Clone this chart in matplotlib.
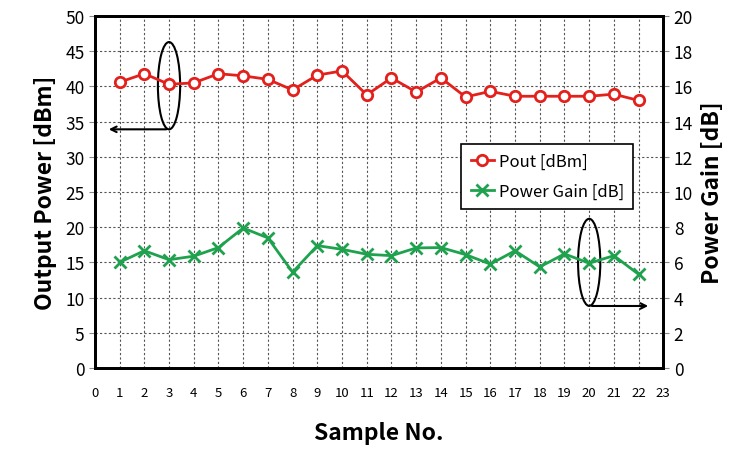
import matplotlib.pyplot as plt
from matplotlib.patches import Ellipse

plt.rcParams['font.family'] = ['Noto Sans CJK KR', 'DejaVu Sans']

samples = list(range(1, 23))
pout_dbm = [40.6, 41.8, 40.3, 40.5, 41.8, 41.5, 41.0, 39.5, 41.6, 42.2, 38.8,
            41.2, 39.2, 41.2, 38.5, 39.3, 38.6, 38.6, 38.6, 38.6, 38.9, 38.0]
gain_db = [6.0, 6.66, 6.15, 6.35, 6.84, 7.95, 7.39, 5.44, 6.95, 6.74, 6.46,
           6.38, 6.82, 6.84, 6.44, 5.9, 6.66, 5.74, 6.48, 5.95, 6.38, 5.32]

red = '#e3201c'
green = '#1fa24e'

fig = plt.figure(figsize=(7.47, 4.6), dpi=100)
ax = fig.add_axes([0.127, 0.198, 0.761, 0.765])
ax2 = ax.twinx()

l1, = ax.plot(samples, pout_dbm, color=red, lw=2, marker='o', ms=7.5,
              mfc='white', mec=red, mew=2, label='Pout [dBm]')
l2, = ax2.plot(samples, gain_db, color=green, lw=2, marker='x', ms=8,
               mec=green, mew=2, label='Power Gain [dB]')

ax.set_xlim(0, 23)
ax.set_ylim(0, 50)
ax2.set_ylim(0, 20)
ax.set_xticks(range(0, 24))
ax.set_yticks(range(0, 51, 5))
ax2.set_yticks(range(0, 21, 2))
ax.grid(True, color='#555555', ls=(0, (2, 2)), lw=0.8)
ax.set_axisbelow(True)

for a in (ax, ax2):
    for s in a.spines.values():
        s.set_linewidth(2)
        s.set_color('black')
ax.tick_params(axis='y', labelsize=12.5, length=4, width=0.8, color='#888888')
ax2.tick_params(axis='y', labelsize=12.5, length=4, width=0.8, color='#888888')
ax.tick_params(axis='x', labelsize=9.5, length=0, pad=13)

ax.set_xlabel('Sample No.', fontsize=16.5, fontweight='bold', labelpad=16)
ax.set_ylabel('Output Power [dBm]', fontsize=16.5, fontweight='bold', labelpad=6)
ax2.set_ylabel('Power Gain [dB]', fontsize=16.5, fontweight='bold', labelpad=6)

# annotations pointing each series to its own axis
ax.add_patch(Ellipse((3, 40.1), 0.9, 12.4, fill=False, ec='black', lw=1.5))
ax.annotate('', xy=(0.45, 33.9), xytext=(3, 33.9),
            arrowprops=dict(arrowstyle='->', lw=1.5, color='black'))
ax2.add_patch(Ellipse((20, 6.0), 0.9, 4.95, fill=False, ec='black', lw=1.5))
ax2.annotate('', xy=(22.5, 3.52), xytext=(20, 3.52),
             arrowprops=dict(arrowstyle='->', lw=1.5, color='black'))

leg = ax2.legend(handles=[l1, l2], loc='upper left', bbox_to_anchor=(0.63, 0.66),
                 fontsize=12, frameon=True, fancybox=False, edgecolor='black',
                 handlelength=1.4, handletextpad=0.3, borderpad=0.55, labelspacing=0.75)
leg.get_frame().set_linewidth(1.2)
leg.get_frame().set_alpha(1)

fig.savefig('out.png', dpi=100)
